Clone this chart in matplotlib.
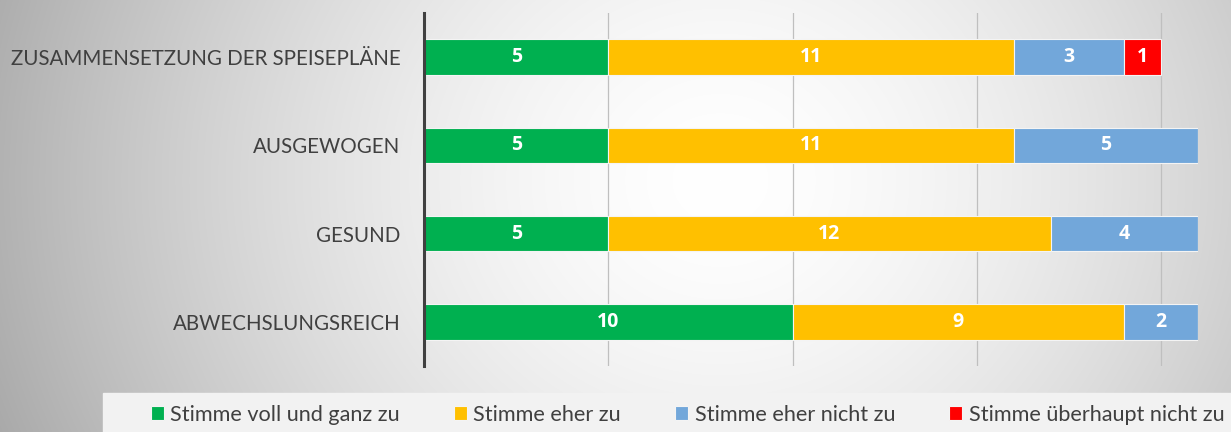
import numpy as np
import matplotlib.pyplot as plt
from matplotlib.patches import Rectangle

categories = ['ZUSAMMENSETZUNG DER SPEISEPLÄNE', 'AUSGEWOGEN', 'GESUND', 'ABWECHSLUNGSREICH']
series_names = ['Stimme voll und ganz zu', 'Stimme eher zu', 'Stimme eher nicht zu', 'Stimme überhaupt nicht zu']
voll = [5, 5, 5, 10]
eher = [11, 11, 12, 9]
eher_nicht = [3, 5, 4, 2]
ueberhaupt = [1, 0, 0, 0]
colors = ['#00B050', '#FFC000', '#72A7DA', '#FF0000']

plt.rcParams['font.family'] = ['Lato', 'DejaVu Sans']

fig = plt.figure(figsize=(12.31, 4.32), dpi=100)

# radial gray background
bg = fig.add_axes([0, 0, 1, 1], zorder=-10)
yy, xx = np.mgrid[0:432, 0:1231]
d = np.hypot(xx - 720, (yy - 180) * 1.1)
g = 1 - 0.30 * np.clip(d / 720, 0, 1.3) ** 1.6
bg.imshow(np.dstack([g, g, g]), aspect='auto', extent=[0, 1, 0, 1])
bg.axis('off')

# legend band
fig.patches.append(Rectangle((103 / 1231, 0), 1 - 103 / 1231, 39 / 432,
                             transform=fig.transFigure, color='#f2f2f2', zorder=-5))

ax = fig.add_axes([424 / 1231, 66 / 432, 774 / 1231, 353 / 432])
ax.patch.set_alpha(0)

y = np.arange(len(categories))
left = np.zeros(len(categories))
handles = []
for vals, name, c in zip([voll, eher, eher_nicht, ueberhaupt], series_names, colors):
    vals = np.array(vals, dtype=float)
    bars = ax.barh(y, vals, left=left, height=0.4, color=c, edgecolor='#f4f4f4',
                   linewidth=0.8, label=name, zorder=3)
    labels = [str(int(v)) if v > 0 else '' for v in vals]
    ax.bar_label(bars, labels=labels, label_type='center', color='white',
                 fontweight='bold', fontsize=14, family=['Open Sans', 'DejaVu Sans'])
    handles.append(bars)
    left += vals

ax.set_xlim(0, 21)
ax.set_ylim(3.5, -0.5)
ax.set_yticks(y)
ax.set_yticklabels(categories, fontsize=14.8, color='#404040')
ax.tick_params(axis='y', length=0, pad=17)
ax.set_xticks([5, 10, 15, 20])
ax.tick_params(axis='x', length=0, labelbottom=False)
ax.grid(axis='x', color='#bfbfbf', linewidth=0.9, zorder=0)
for s in ['top', 'right', 'bottom']:
    ax.spines[s].set_visible(False)
ax.spines['left'].set_color('#404040')
ax.spines['left'].set_linewidth(2.2)
ax.spines['left'].set_zorder(4)

fig.legend(handles=handles, labels=series_names, loc='center', ncol=4,
           bbox_to_anchor=(0.5585, 17 / 432), frameon=False, fontsize=15.6,
           handlelength=0.6, handleheight=0.6, handletextpad=0.3,
           columnspacing=2.5, labelcolor='#404040')

fig.savefig('out.png', dpi=100)
